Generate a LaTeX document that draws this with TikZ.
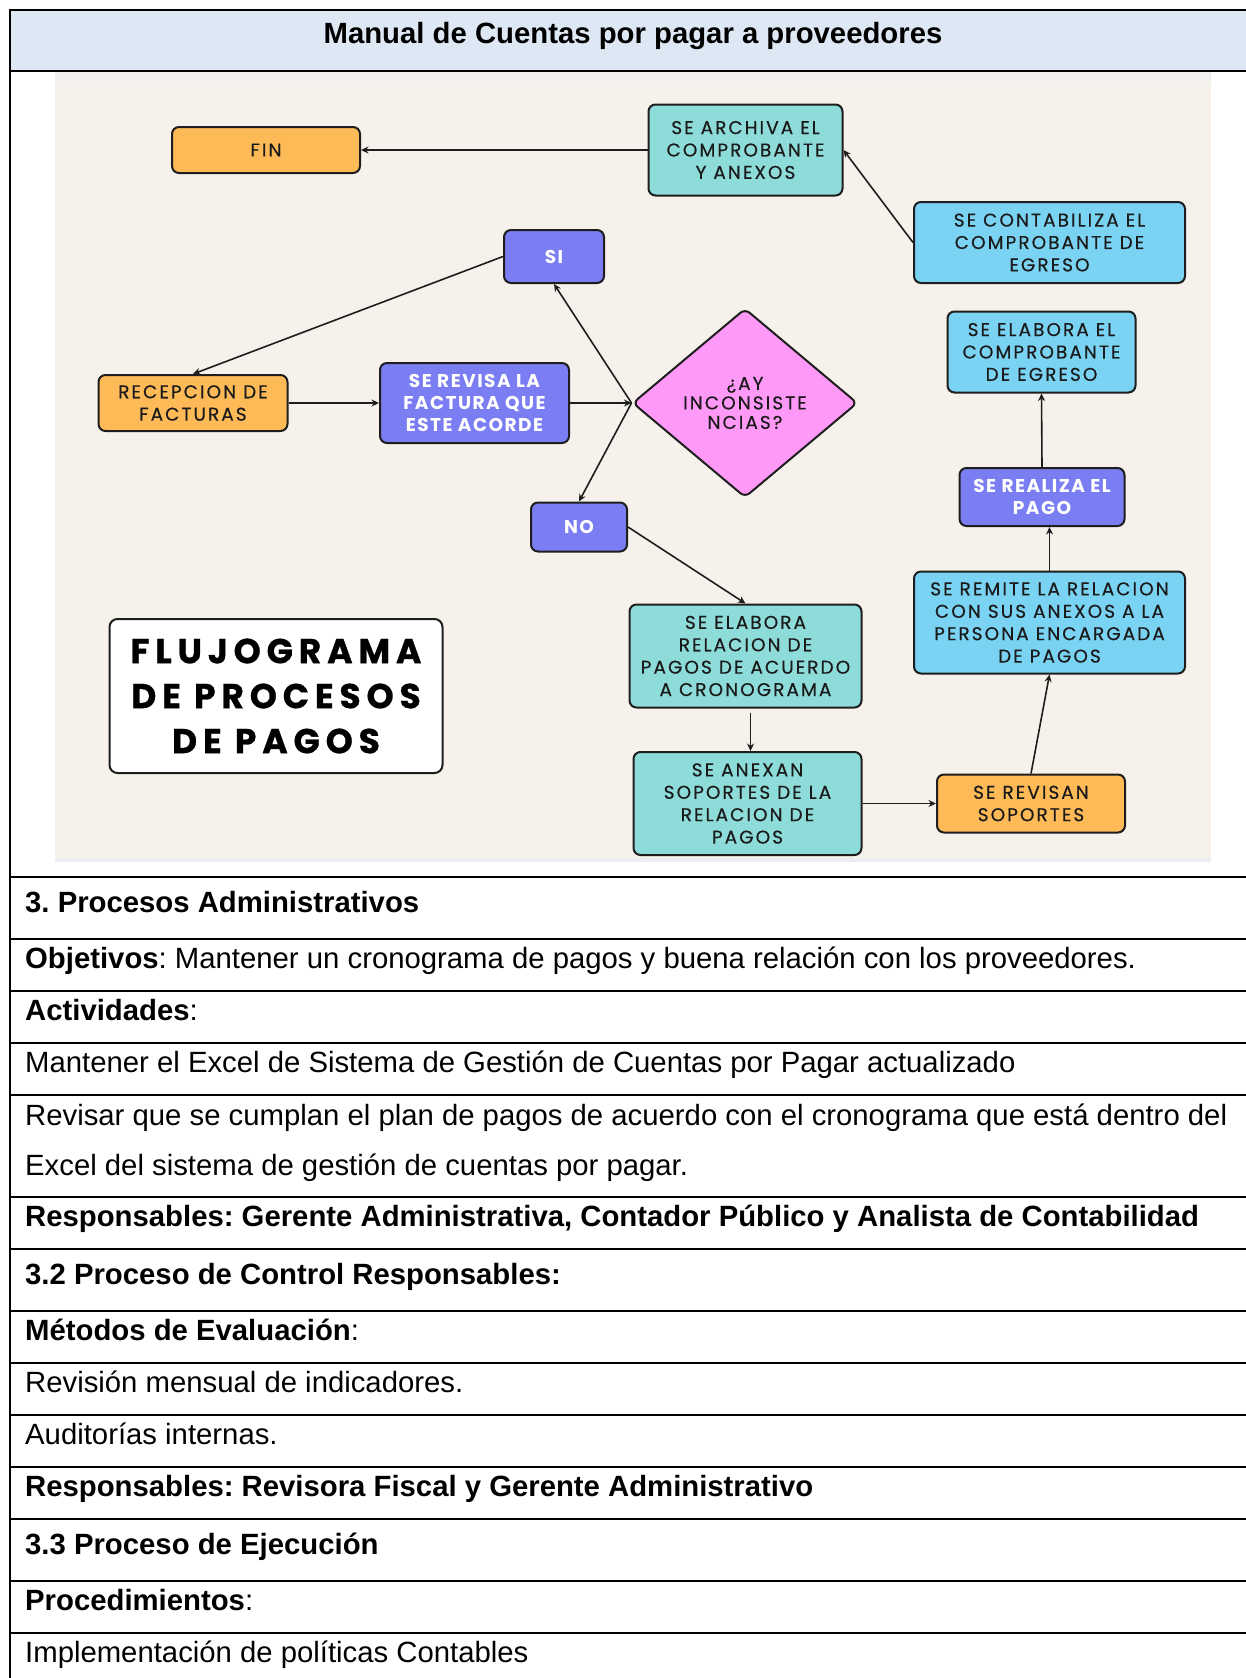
\documentclass[tikz,border=0pt]{standalone}
\usepackage{fontspec}
\setmainfont{Liberation Sans}
\newfontfamily\boxfont[LetterSpace=11,FakeBold=0.4]{Poppins}
\newfontfamily\boxfontbold[LetterSpace=8]{Poppins}
\newfontfamily\bannerfont[LetterSpace=17,FakeBold=0.8]{Poppins}
\usetikzlibrary{shapes.geometric,arrows.meta,calc}
\frenchspacing

\definecolor{hdr}{HTML}{DEE8F4}
\definecolor{canvasbg}{HTML}{F6F2EB}
\definecolor{stripgray}{HTML}{ECEEF1}
\definecolor{orangebox}{HTML}{FDBA57}
\definecolor{purplebox}{HTML}{7A7EF2}
\definecolor{tealbox}{HTML}{8EDCDA}
\definecolor{bluebox}{HTML}{7BD3F3}
\definecolor{pinkbox}{HTML}{FF99F8}
\definecolor{edge}{HTML}{1E1E1E}
\definecolor{ink}{HTML}{1A1A1A}

\tikzset{
  flowbox/.style={draw=edge, line width=2pt, rounded corners=7pt, inner sep=0pt,
    align=center, text=ink, font=\boxfont\fontsize{18.5}{22.4}\selectfont},
  lightbox/.style={flowbox, text=white, font=\boxfontbold\bfseries\fontsize{18.5}{22.4}\selectfont},
  flowarrow/.style={draw=edge, line width=1.6pt, -{Stealth[length=7.5pt,width=7pt]}},
  gridline/.style={line width=2.3pt, black},
  rowtext/.style={anchor=base west, inner sep=0pt, font=\fontsize{29.3}{34}\selectfont},
  headtext/.style={rowtext, font=\bfseries\fontsize{29.3}{34}\selectfont}
}

\begin{document}
\begin{tikzpicture}[x=1pt,y=-1pt]
\useasboundingbox (0,0) rectangle (1246,1678);

% header cell
\fill[hdr] (10,10) rectangle (1246,71);
\node[anchor=base, inner sep=0pt, font=\bfseries\fontsize{29.3}{34}\selectfont] (title) at (633,43.5) {Manual de Cuentas por pagar a proveedores};

% flowchart canvas
\fill[canvasbg] (55,72) rectangle (1211,862);
\shade[top color=stripgray, bottom color=canvasbg] (55,72) rectangle (1211,86);
\fill[stripgray] (55,858) rectangle (1211,862);

% process boxes
\node[flowbox, fill=orangebox, minimum width=188pt, minimum height=46pt] (fin) at (266,150) {FIN};
\node[flowbox, fill=tealbox, minimum width=194pt, minimum height=91pt] (archiva) at (745.5,150) {SE ARCHIVA EL\\COMPROBANTE\\Y ANEXOS};
\node[flowbox, fill=bluebox, minimum width=271pt, minimum height=81pt] (contab) at (1049.5,242.5) {SE CONTABILIZA EL\\COMPROBANTE DE\\EGRESO};
\node[lightbox, fill=purplebox, minimum width=100pt, minimum height=53pt] (si) at (554,256.5) {SI};
\node[flowbox, fill=bluebox, minimum width=188pt, minimum height=81pt] (egreso) at (1041.5,352) {SE ELABORA EL\\COMPROBANTE\\DE EGRESO};
\node[flowbox, fill=orangebox, minimum width=189pt, minimum height=56pt] (recep) at (193,403) {RECEPCION DE\\FACTURAS};
\node[lightbox, fill=purplebox, minimum width=189pt, minimum height=80pt] (revisa) at (474.5,403) {SE REVISA LA\\FACTURA QUE\\ESTE ACORDE};
\node[diamond, draw=edge, line width=2pt, fill=pinkbox, rounded corners=6pt, aspect=1.19,
      minimum width=225pt, minimum height=189pt, inner sep=0pt, align=center, text=ink,
      font=\boxfont\fontsize{18.5}{19.5}\selectfont] (incons) at (745,403) {¿AY\\INCONSISTE\\NCIAS?};
\node[lightbox, fill=purplebox, minimum width=165pt, minimum height=58pt] (pago) at (1042,497) {SE REALIZA EL\\PAGO};
\node[lightbox, fill=purplebox, minimum width=96pt, minimum height=49pt] (no) at (579,527) {NO};
\node[flowbox, fill=bluebox, minimum width=271pt, minimum height=102pt] (remite) at (1049.5,622.5) {SE REMITE LA RELACION\\CON SUS ANEXOS A LA\\PERSONA ENCARGADA\\DE PAGOS};
\node[flowbox, fill=tealbox, minimum width=232pt, minimum height=103pt] (relacion) at (745.5,656) {SE ELABORA\\RELACION DE\\PAGOS DE ACUERDO\\A CRONOGRAMA};
\node[flowbox, fill=tealbox, minimum width=228pt, minimum height=103pt] (anexan) at (747.5,803.5) {SE ANEXAN\\SOPORTES DE LA\\RELACION DE\\PAGOS};
\node[flowbox, fill=orangebox, minimum width=188pt, minimum height=58pt] (soportes) at (1031,803.5) {SE REVISAN\\SOPORTES};

% banner
\node[draw=edge, line width=2pt, fill=white, rounded corners=8pt, minimum width=333pt, minimum height=154pt,
      align=center, text=black, font=\bannerfont\bfseries\fontsize{34.5}{45}\selectfont] (banner) at (276,696) {FLUJOGRAMA\\DE PROCESOS\\DE PAGOS};

% connectors
\draw[flowarrow] (archiva.west) -- (fin.east);
\draw[flowarrow] (contab.west) -- (archiva.east);
\draw[flowarrow] (si.west) -- (recep.north);
\draw[flowarrow] (recep.east) -- (revisa.west);
\draw[flowarrow] (revisa.east) -- (incons.west);
\draw[flowarrow] (incons.west) -- (si.south);
\draw[flowarrow] (incons.west) -- (no.north);
\draw[flowarrow] (no.east) -- (relacion.north);
\coordinate (relout) at ([xshift=5pt,yshift=-4pt]relacion.south);
\draw[flowarrow] (relout) -- (relout |- anexan.north);
\draw[flowarrow] (anexan.east) -- (soportes.west);
\draw[flowarrow] (soportes.north) -- (remite.south);
\draw[flowarrow] (remite.north) -- (remite.north |- pago.south);
\draw[flowarrow] (pago.north) -- (egreso.south);

% table rules
\draw[gridline] (10,10) -- (1246,10);
\draw[gridline] (10,8.85) -- (10,1678);
\foreach \yy in {71,877,939,991,1043,1095,1197,1249,1311,1363,1415,1467,1519,1581,1633}
  \draw[gridline] (10,\yy) -- (1246,\yy);

% table text
\node[headtext] (r1) at (25,912) {3. Procesos Administrativos};
\node[rowtext] (r2) at (25,968) {\textbf{Objetivos}: Mantener un cronograma de pagos y buena relación con los proveedores.};
\node[rowtext] (r3) at (25,1020) {\textbf{Actividades}:};
\node[rowtext] (r4) at (25,1072) {Mantener el Excel de Sistema de Gestión de Cuentas por Pagar actualizado};
\node[rowtext] (r5) at (25,1125) {Revisar que se cumplan el plan de pagos de acuerdo con el cronograma que está dentro del};
\node[rowtext] (r5b) at (25,1175) {Excel del sistema de gestión de cuentas por pagar.};
\node[headtext] (r6) at (25,1226) {Responsables: Gerente Administrativa, Contador Público y Analista de Contabilidad};
\node[headtext] (r7) at (25,1284) {3.2 Proceso de Control Responsables:};
\node[rowtext] (r8) at (25,1340) {\textbf{Métodos de Evaluación}:};
\node[rowtext] (r9) at (25,1392) {Revisión mensual de indicadores.};
\node[rowtext] (r10) at (25,1444) {Auditorías internas.};
\node[headtext] (r11) at (25,1496) {Responsables: Revisora Fiscal y Gerente Administrativo};
\node[headtext] (r12) at (25,1554) {3.3 Proceso de Ejecución};
\node[rowtext] (r13) at (25,1610) {\textbf{Procedimientos}:};
\node[rowtext] (r14) at (25,1662) {Implementación de políticas Contables};
\end{tikzpicture}
\end{document}
